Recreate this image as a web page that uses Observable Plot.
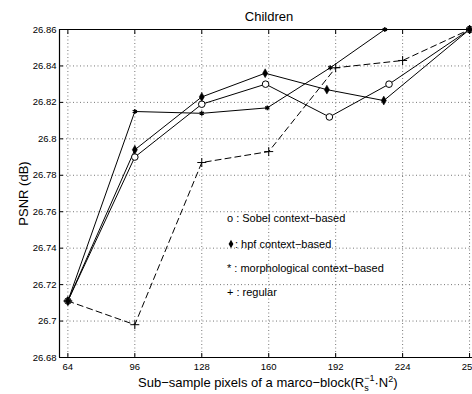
<!DOCTYPE html>
<html>
<head>
<meta charset="utf-8">
<script src="https://cdn.jsdelivr.net/npm/d3@7"></script>
<script src="https://cdn.jsdelivr.net/npm/@observablehq/plot@0.6"></script>
<style>
  html, body { margin: 0; padding: 0; background: #fff; overflow: hidden; }
  #chart svg { display: block; font-family: "Liberation Sans", Arial, sans-serif; }
</style>
</head>
<body>
<div id="chart"></div>
<script>
// X tick values
const xTicks = [64, 96, 128, 160, 192, 224, 256];
const yTicks = [26.68, 26.7, 26.72, 26.74, 26.76, 26.78, 26.8, 26.82, 26.84, 26.86];

// Series (x; context-based points sit slightly left of grid at 160/192/224)
const sobelX = [64, 96, 128, 158.5, 189, 217.5, 256];
const sobelY = [26.711, 26.790, 26.819, 26.830, 26.812, 26.830, 26.860];

const hpfX = [64, 96, 128, 158.3, 187.8, 215, 256];
const hpfY = [26.711, 26.794, 26.823, 26.836, 26.827, 26.821, 26.860];

const morphX = [64, 96, 128, 159.3, 189.4, 215.5, 256];
const morphY = [26.711, 26.815, 26.814, 26.817, 26.839, 26.860, 26.860];

const regX = [64, 96, 128, 160, 192, 224, 256];
const regY = [26.711, 26.698, 26.787, 26.793, 26.839, 26.843, 26.860];

const legendLabels = [
  "o : Sobel context\u2212based",
  ": hpf context\u2212based",
  "* : morphological context\u2212based",
  "+ : regular"
];

const toRows = (xs, ys) => xs.map((x, i) => ({x, y: ys[i]}));
const sobel = toRows(sobelX, sobelY);
const hpf = toRows(hpfX, hpfY);
const morph = toRows(morphX, morphY);
const reg = toRows(regX, regY);

const fmtY = d => String(+d.toFixed(2));

const plot = Plot.plot({
  width: 472,
  height: 394,
  marginLeft: 59,
  marginRight: 0,
  marginTop: 29,
  marginBottom: 37,
  style: {fontFamily: "Liberation Sans, Arial, sans-serif", fontSize: "9.5px", color: "#000", background: "#fff"},
  x: {domain: [60, 257.4], ticks: xTicks},
  y: {domain: [26.68, 26.86], ticks: yTicks},
  marks: [
    Plot.gridX(xTicks, {stroke: "#777", strokeOpacity: 1, strokeDasharray: "1,2.5"}),
    Plot.gridY(yTicks, {stroke: "#777", strokeOpacity: 1, strokeDasharray: "1,2.5"}),
    Plot.axisX(xTicks, {anchor: "bottom", tickSize: -4, tickPadding: 10, tickFormat: d => String(d), label: null, fontSize: "9.5px"}),
    Plot.axisX(xTicks, {anchor: "top", tickSize: -4, tickFormat: () => "", label: null}),
    Plot.axisY(yTicks, {anchor: "left", tickSize: -4, tickPadding: 7, tickFormat: fmtY, label: null, fontSize: "9.5px"}),
    Plot.ruleY([26.68, 26.86], {stroke: "#000", strokeWidth: 1.2}),
    Plot.ruleX([60], {stroke: "#000", strokeWidth: 1.2}),
    Plot.line(reg, {x: "x", y: "y", stroke: "#000", strokeWidth: 1, strokeDasharray: "6,4"}),
    Plot.line(morph, {x: "x", y: "y", stroke: "#000", strokeWidth: 1}),
    Plot.line(sobel, {x: "x", y: "y", stroke: "#000", strokeWidth: 1}),
    Plot.line(hpf, {x: "x", y: "y", stroke: "#000", strokeWidth: 1}),
    Plot.dot(sobel, {x: "x", y: "y", r: 3.3, stroke: "#000", fill: "#fff", strokeWidth: 1}),
    Plot.dot(hpf, {x: "x", y: "y", r: 2.7, symbol: "diamond", fill: "#000", stroke: "#000", strokeWidth: 0.5}),
    Plot.dot(morph, {x: "x", y: "y", r: 2.3, symbol: "asterisk", stroke: "#000", strokeWidth: 1.3}),
    Plot.dot(reg, {x: "x", y: "y", r: 3, symbol: "plus", stroke: "#000", strokeWidth: 1})
  ]
});

document.getElementById("chart").appendChild(plot);

const svg = d3.select(plot);
const font = "Liberation Sans, Arial, sans-serif";

// Title
svg.append("text").attr("x", 269).attr("y", 21).attr("text-anchor", "middle")
  .attr("font-family", font).attr("font-size", 13).attr("fill", "#000").text("Children");

// Y label
svg.append("text").attr("transform", "translate(27.5,193.5) rotate(-90)").attr("text-anchor", "middle")
  .attr("font-family", font).attr("font-size", 13).attr("fill", "#000").text("PSNR (dB)");

// X label with subscript / superscript
const xl = svg.append("text").attr("x", 138).attr("y", 387).attr("text-anchor", "start")
  .attr("font-family", font).attr("font-size", 13).attr("fill", "#000");
xl.append("tspan").text("Sub\u2212sample pixels of a marco\u2212block(R");
xl.append("tspan").attr("font-size", 9).attr("dy", 4).text("s");
xl.append("tspan").attr("font-size", 9).attr("dx", -4.5).attr("dy", -10.5).text("\u22121");
xl.append("tspan").attr("dy", 6.5).text("\u00b7N");
xl.append("tspan").attr("font-size", 9).attr("dy", -5).text("2");
xl.append("tspan").attr("dy", 5).text(")");

// Legend
const ly = [222, 247.5, 271.5, 295.7];
legendLabels.forEach((t, i) => {
  svg.append("text").attr("x", i === 1 ? 235 : 227).attr("y", ly[i]).attr("text-anchor", "start")
    .attr("font-family", font).attr("font-size", 11).attr("fill", "#000").text(t);
});
svg.append("path").attr("d", d3.symbol(d3.symbolDiamond, 20)()).attr("transform", `translate(231,${ly[1]-3.5})`).attr("fill", "#000");
</script>
</body>
</html>
